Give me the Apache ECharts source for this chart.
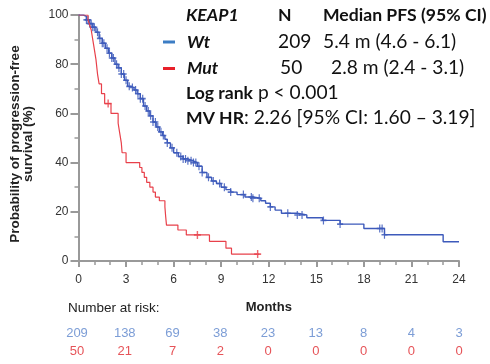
<!DOCTYPE html>
<html><head><meta charset="utf-8">
<script src="https://cdn.jsdelivr.net/npm/echarts@6/dist/echarts.min.js"></script>
<style>html,body{margin:0;padding:0;background:#fff}#c{width:490px;height:364px}</style>
</head><body><div id="c"></div>
<script>
// Kaplan-Meier step points (months, % progression-free)
const wtTime=[0,0.3,0.5,0.7,0.9,1.1,1.3,1.5,1.7,1.9,2.1,2.3,2.5,2.7,2.9,3.1,3.3,3.5,3.7,3.9,4.1,4.3,4.5,4.7,4.9,5.1,5.3,5.45,5.6,5.8,6.0,6.3,6.6,6.9,7.2,7.5,7.8,8.1,8.4,8.7,9.0,9.3,9.6,10.0,10.5,11.0,11.5,11.8,12.1,12.4,12.8,13.8,14.4,15.4,16.5,18.0,19.3,23.0,24];
const wtSurv=[100,99.5,98,96.5,95,93,90.5,88.5,86.5,84.5,82.5,80,78.5,76,73.5,71,70.5,69.5,68,66,63,61,59,56.5,54.5,52.5,51,49.5,48,46,44,42.5,41.5,40.8,40,38.5,36,34,32.5,31.5,30,29,28,27,26,25.5,24.5,23.5,22,20.7,19.4,18.7,17.6,16.5,15,13.2,10.7,7.8,7.8];
const wtCensor=[0.5,0.6,0.7,0.8,0.9,1.0,1.2,1.35,1.5,1.6,1.8,1.95,2.1,2.2,2.4,2.55,2.7,2.85,3.0,3.2,3.4,3.6,3.75,3.9,4.05,4.2,4.4,4.55,4.7,4.85,5.0,5.2,5.35,5.6,5.9,6.2,6.45,6.6,6.75,6.9,7.1,7.25,7.4,7.6,7.8,8.2,8.5,8.9,9.2,9.6,10.4,10.9,11.0,11.4,12.1,13.2,13.8,14.1,15.45,16.5,19.0,19.15,19.3];
const mutTime=[0,0.6,0.7,0.8,0.9,1.0,1.1,1.2,1.3,1.45,1.65,2.05,2.5,2.6,2.7,2.75,3.0,3.86,4.0,4.15,4.3,4.5,4.7,4.85,5.1,5.45,5.5,5.55,6.27,6.8,8.26,9.3,9.65,11.4];
const mutSurv=[100,98,96,94,90,86,82,76,72,68,64,60,56,52,48,44,40,38,36,34,32,30,28,26,24.5,22,18,14.6,12.6,10.6,8,5.2,2.8,2.8];
const mutCensor=[1.87,7.5,11.3];
const riskTimes=[0,3,6,9,12,15,18,21,24];
const riskWt=[209,138,69,38,23,13,8,4,3];
const riskMut=[50,21,7,2,0,0,0,0,0];

function survAt(T,S,t){let v=S[0];for(let i=0;i<T.length;i++){if(T[i]<=t)v=S[i];}return v;}
const zip=(T,S)=>T.map((t,i)=>[t,S[i]]);
const plus='path://M2,0H3V2H5V3H3V5H2V3H0V2H2Z';
const BLUE='#3d5abb', RED='#e8404a';
const axisCol='#999';

const chart=echarts.init(document.getElementById('c'),null,{renderer:'canvas'});
const F='Lato', RS=19.2, BS=17.6;
const txt=(x,y,text,bold,italic)=>({type:'text',x:x,y:y,style:{text:text,fontFamily:F,fontSize:bold?BS:RS,fontWeight:bold?'bold':'normal',fontStyle:italic?'italic':'normal',fill:'#111',verticalAlign:'middle'}});
const rich=(x,y,text)=>({type:'text',x:x,y:y,style:{text:text,fontFamily:F,fontSize:RS,fill:'#111',verticalAlign:'middle',rich:{b:{fontFamily:F,fontSize:BS,fontWeight:'bold',fill:'#111'}}}});
chart.setOption({
  animation:false,
  grid:[{left:77,top:15,width:382,height:246},{left:77,top:324.5,width:382,height:36}],
  xAxis:[{type:'value',gridIndex:0,min:0,max:24,interval:3,
    name:'Months',nameLocation:'middle',nameGap:40,
    nameTextStyle:{fontFamily:'Liberation Sans',fontWeight:'bold',fontSize:13,color:'#222'},
    axisLine:{lineStyle:{color:axisCol,width:2}},
    axisTick:{length:6,lineStyle:{color:axisCol,width:2}},
    minorTick:{show:true,splitNumber:3,length:4,lineStyle:{color:axisCol,width:1.5}},
    splitLine:{show:false},
    axisLabel:{margin:13,fontFamily:'Liberation Sans',fontSize:12,color:'#333'}},
   {type:'value',gridIndex:1,min:0,max:24,show:false}],
  yAxis:[{type:'value',gridIndex:0,min:0,max:100,interval:20,
    name:'Probability of progression-free\nsurvival (%)',nameLocation:'middle',nameGap:44,nameRotate:90,
    nameTextStyle:{fontFamily:'Liberation Sans',fontWeight:'bold',fontSize:13.5,color:'#222',lineHeight:13,padding:[0,12,0,0]},
    axisLine:{show:true,lineStyle:{color:axisCol,width:2}},
    axisTick:{show:true,length:8,lineStyle:{color:axisCol,width:2}},
    minorTick:{show:true,splitNumber:2,length:4,lineStyle:{color:axisCol,width:1.5}},
    splitLine:{show:false},
    axisLabel:{margin:10,fontFamily:'Liberation Sans',fontSize:12,color:'#333'}},
   {type:'category',gridIndex:1,data:['Mut','Wt'],show:false}],
  series:[
    {type:'line',step:'end',data:zip(wtTime,wtSurv),showSymbol:false,lineStyle:{color:BLUE,width:1.4},z:3},
    {type:'scatter',data:wtCensor.map(t=>[t,survAt(wtTime,wtSurv,t)]),symbol:plus,symbolSize:[6,8],itemStyle:{color:BLUE,opacity:0.85},z:4},
    {type:'line',step:'end',data:zip(mutTime,mutSurv),showSymbol:false,lineStyle:{color:RED,width:1.2},z:5},
    {type:'scatter',data:mutCensor.map(t=>[t,survAt(mutTime,mutSurv,t)]),symbol:plus,symbolSize:[7,8],itemStyle:{color:RED},z:6},
    {type:'scatter',xAxisIndex:1,yAxisIndex:1,data:riskTimes.map((t,i)=>[t,'Wt',riskWt[i]]),symbolSize:1,itemStyle:{color:'transparent'},
      label:{show:true,position:'inside',formatter:p=>p.value[2],fontFamily:'Liberation Sans',fontSize:13,color:'#5b85cc'}},
    {type:'scatter',xAxisIndex:1,yAxisIndex:1,data:riskTimes.map((t,i)=>[t,'Mut',riskMut[i]]),symbolSize:1,itemStyle:{color:'transparent'},
      label:{show:true,position:'inside',formatter:p=>p.value[2],fontFamily:'Liberation Sans',fontSize:13,color:'#e0282e'}}
  ],
  graphic:[
    {type:'text',left:68,top:301,style:{text:'Number at risk:',fontFamily:'Liberation Sans',fontSize:13.5,fill:'#222'}},
    {type:'rect',shape:{x:163,y:40.5,width:12,height:3},style:{fill:'#3c7dc4'}},
    {type:'rect',shape:{x:163,y:67,width:12,height:3},style:{fill:'#e8202a'}},
    txt(186,15,'KEAP1',true,true),
    txt(278,15,'N',true,false),
    txt(323,15,'Median PFS (95% CI)',true,false),
    txt(187,42,'Wt',true,true),
    txt(278,42,'209',false,false),
    txt(323,42,'5.4 m (4.6 - 6.1)',false,false),
    txt(187,68,'Mut',true,true),
    txt(280,68,'50',false,false),
    txt(331,68,'2.8 m (2.4 - 3.1)',false,false),
    rich(186,93,'{b|Log rank} p < 0.001'),
    rich(186,118,'{b|MV HR}: 2.26 [95% CI: 1.60 \u2013 3.19]')
  ]
});
</script></body></html>
